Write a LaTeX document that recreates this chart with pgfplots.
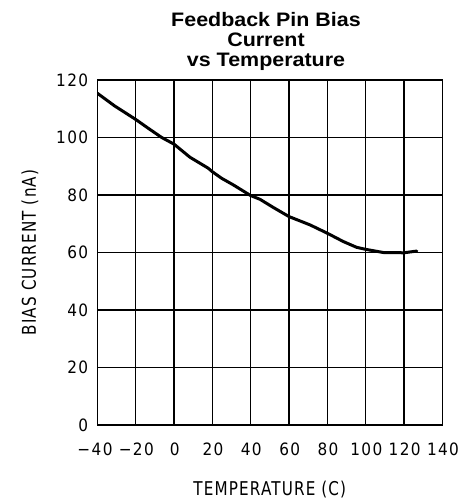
\documentclass[border=0pt]{standalone}
\usepackage{fontspec}
\setmainfont{Liberation Sans}
\newfontfamily\titlefont[FakeStretch=1.1]{Liberation Sans}
\newfontfamily\tickfont[FakeStretch=0.9,LetterSpace=8]{DejaVu Sans}
\newfontfamily\labelfont[FakeStretch=0.8,LetterSpace=6]{DejaVu Sans}
\usepackage{pgfplots}
\pgfplotsset{compat=1.18}

% bias current vs temperature
\pgfplotstableread{
T     I
-40   115.4
-31   111.0
-20   106.3
-13.4 103.2
-6.4  100.0
0     97.7
8.4   93.1
17.9  89.3
20    88.1
24.9  85.8
31    83.5
40    79.8
44.9  78.5
52    75.6
60    72.5
71    69.6
80    66.7
88.4  63.8
95.3  61.8
100   61.1
109.2 60.0
120   59.9
126.7 60.5
}\biasdata

\begin{document}
\begin{tikzpicture}
\path[use as bounding box] (0,0) rectangle (464pt,501pt);
\begin{axis}[
    at={(97.3pt,76pt)}, anchor=south west,
    scale only axis,
    width=345pt, height=345pt,
    xmin=-40, xmax=140, ymin=0, ymax=120,
    xtick={-40,-20,...,140},
    ytick={0,20,...,120},
    xticklabels={{−40\kern6pt},−20,0,20,40,60,80,100,120,140},
    yticklabels={0,20,40,60,80,100,120},
    major tick length=0pt,
    grid=major,
    grid style={black, line width=1.1pt},
    axis line style={black, line width=1.2pt},
    every tick label/.append style={font=\tickfont\fontsize{17}{17}\selectfont, inner sep=0pt},
    xticklabel style={anchor=base, yshift=-30.5pt, xshift=0.7pt},
    yticklabel style={anchor=east, xshift=-9pt},
    xlabel={TEMPERATURE (C)},
    ylabel={BIAS CURRENT (nA)},
    label style={font=\labelfont\fontsize{19}{19}\selectfont, inner sep=0pt},
    xlabel style={at={(axis description cs:0.5,0)}, anchor=base, yshift=-70pt},
    ylabel style={at={(axis description cs:0,0.5)}, anchor=base, yshift=61.3pt},
]
\addplot[black, line width=3pt, line join=round, line cap=round] table[x=T, y=I] {\biasdata};
\end{axis}
\begin{scope}[every node/.style={font=\titlefont\bfseries\fontsize{19.5}{20}\selectfont, anchor=base, inner sep=0pt}]
\node at (266pt,474.3pt) {Feedback Pin Bias};
\node at (266pt,454.3pt) {Current};
\node at (266pt,434.3pt) {vs Temperature};
\end{scope}
\end{tikzpicture}
\end{document}
